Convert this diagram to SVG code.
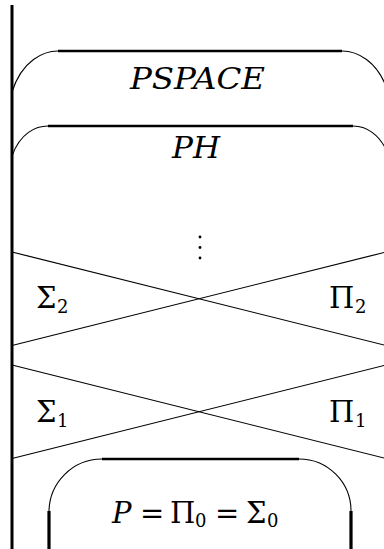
<svg xmlns="http://www.w3.org/2000/svg" width="384" height="549" viewBox="0 0 384 549">
<style>
.bg{fill:#fff}
.axis{stroke:#000;stroke-width:3;fill:none}
.top{stroke:#000;stroke-width:2.3;fill:none}
.arc{stroke:#000;stroke-width:1.1;fill:none}
.side{stroke:#000;stroke-width:3.2;fill:none}
.x{stroke:#000;stroke-width:1.2;fill:none}
.t{font-family:'DejaVu Serif',serif;font-size:29px;fill:#000}
.i{font-style:italic}
.s{font-size:18px}
</style>
<rect class="bg" x="0" y="0" width="384" height="549"/>
<g id="axis"><line class="axis" x1="12" y1="5" x2="12" y2="549"/></g>
<g id="pspace">
<line class="top" x1="58" y1="51" x2="342" y2="51"/>
<path class="arc" d="M58,51 C44,51 22,60 12,92"/>
<path class="arc" d="M342,51 C356,51 378,60 388,92"/>
<text class="t i" x="130" y="89" textLength="135" lengthAdjust="spacingAndGlyphs">PSPACE</text>
</g>
<g id="ph">
<line class="top" x1="48" y1="126" x2="353" y2="126"/>
<path class="arc" d="M48,126 C36,126 20,133 12,156"/>
<path class="arc" d="M353,126 C365,126 380,133 389,156"/>
<text class="t i" x="172" y="158" textLength="48" lengthAdjust="spacingAndGlyphs">PH</text>
</g>
<g id="vdots">
<circle cx="200" cy="237" r="1.4"/>
<circle cx="200" cy="247.5" r="1.4"/>
<circle cx="200" cy="258" r="1.4"/>
</g>
<g id="connectors">
<line class="x" x1="12" y1="252" x2="386" y2="345.5"/>
<line class="x" x1="12" y1="345.5" x2="386" y2="252"/>
<line class="x" x1="12" y1="365" x2="386" y2="458.5"/>
<line class="x" x1="12" y1="458.5" x2="386" y2="365"/>
</g>
<g id="sigma2"><text class="t" x="36" y="308">Σ<tspan class="s" x="57" dy="5">2</tspan></text></g>
<g id="pi2"><text class="t" x="329" y="308">Π<tspan class="s" x="355" dy="5">2</tspan></text></g>
<g id="sigma1"><text class="t" x="36" y="422">Σ<tspan class="s" x="57" dy="5">1</tspan></text></g>
<g id="pi1"><text class="t" x="329" y="422">Π<tspan class="s" x="355" dy="5">1</tspan></text></g>
<g id="p">
<line class="top" x1="102" y1="459" x2="299" y2="459"/>
<path class="arc" d="M102,459 A53,53 0 0 0 49,512"/>
<path class="arc" d="M299,459 A52,52 0 0 1 351,511"/>
<line class="side" x1="49" y1="511" x2="49" y2="549"/>
<line class="side" x1="351" y1="511" x2="351" y2="549"/>
<text class="t" y="523"><tspan class="i" x="112">P</tspan><tspan x="140">=</tspan><tspan x="170">Π</tspan><tspan class="s" x="195" dy="4">0</tspan><tspan x="215" dy="-4">=</tspan><tspan x="246">Σ</tspan><tspan class="s" x="267" dy="4">0</tspan></text>
</g>
</svg>
